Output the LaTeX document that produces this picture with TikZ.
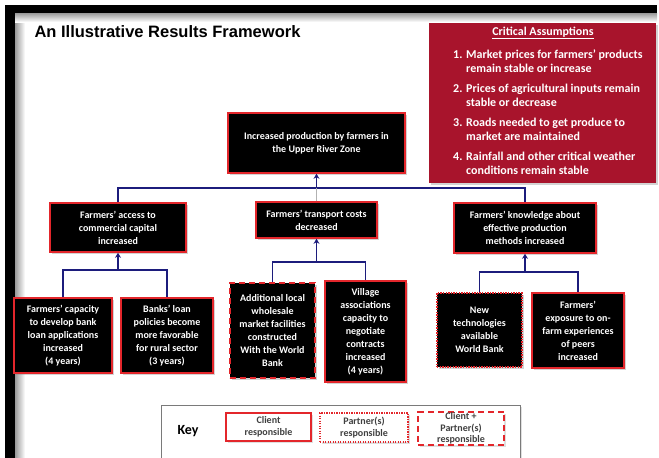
\documentclass[tikz,border=0pt]{standalone}
\usepackage{fontspec}
\setmainfont{Carlito}
\newfontfamily\titlefont{Liberation Sans}
\usetikzlibrary{arrows.meta, positioning, shadows}
\definecolor{rfred}{HTML}{E3262B}
\definecolor{rfwine}{HTML}{A8142C}
\definecolor{rfnavy}{HTML}{1C1C7C}
\definecolor{rfgray}{HTML}{7A7A7A}

\begin{document}
\begin{tikzpicture}[x=1pt, y=-1pt,
  resultnode/.style={rectangle, draw=rfred, fill=black, line width=1.6pt, text=white, font=\bfseries\fontsize{10}{13}\selectfont, align=center, inner sep=2pt, drop shadow={opacity=0.35, shadow xshift=2pt, shadow yshift=-2pt}},
  partnernode/.style={resultnode, line width=1.5pt, dash pattern=on 1.4pt off 1.2pt},
  jointnode/.style={resultnode, line width=2.4pt, dash pattern=on 6pt off 4pt},
  keynode/.style={rectangle, draw=rfred, fill=white, line width=1.6pt, text=black!75, font=\bfseries\fontsize{10}{11.5}\selectfont, align=center, inner sep=1pt, drop shadow={opacity=0.25, shadow xshift=2pt, shadow yshift=-2pt}},
  link/.style={rfnavy, line width=1.8pt},
  arr/.style={-{Stealth[length=5pt, width=6pt]}, rfnavy, line width=1.8pt},
  stem/.style={black!30, line width=1pt},
]
  \useasboundingbox (0,0) rectangle (659,458);

  % Page frame
  \fill[black] (5,5) rectangle (15,458);
  \fill[black] (5,5) rectangle (657,13);
  \shade[left color=black!40, right color=white] (15,13) rectangle (25,458);
  \shade[top color=black!40, bottom color=white] (15,13) rectangle (657,22);

  \node[font=\titlefont\bfseries\fontsize{16.5}{19}\selectfont, anchor=west] (title) at (31, 32) {An Illustrative Results Framework};

  % Critical assumptions
  \node[rectangle, fill=rfwine, minimum width=227pt, minimum height=160pt, drop shadow={opacity=0.35, shadow xshift=2pt, shadow yshift=-2pt}] (assume) at (542.5, 103) {};
  \node[font=\bfseries\fontsize{12}{14}\selectfont, text=white] (atitle) at (543, 33) {\underline{Critical Assumptions}};
  \node[font=\bfseries\fontsize{12}{14}\selectfont, text=white, align=left, anchor=north west, inner sep=0pt] (alist) at (453, 50) {%
    \makebox[13pt][l]{1.}Market prices for farmers’ products\\
    \hspace*{13pt}remain stable or increase\\[6pt]
    \makebox[13pt][l]{2.}Prices of agricultural inputs remain\\
    \hspace*{13pt}stable or decrease\\[6pt]
    \makebox[13pt][l]{3.}Roads needed to get produce to\\
    \hspace*{13pt}market are maintained\\[6pt]
    \makebox[13pt][l]{4.}Rainfall and other critical weather\\
    \hspace*{13pt}conditions remain stable};

  % Goal and intermediate results
  \node[resultnode, minimum width=177pt, minimum height=60pt] (goal) at (316.5, 143) {Increased production by farmers in\\the Upper River Zone};
  \node[resultnode, minimum width=136pt, minimum height=49pt] (access) at (118, 227.5) {Farmers’ access to\\commercial capital\\increased};
  \node[resultnode, minimum width=121pt, minimum height=36pt] (transport) at (316.5, 220) {Farmers’ transport costs\\decreased};
  \node[resultnode, minimum width=142pt, minimum height=50pt] (know) at (525, 228) {Farmers’ knowledge about\\effective production\\methods increased};

  % Lower-level results
  \node[resultnode, minimum width=98pt, minimum height=75pt] (cap) at (63, 335.5) {Farmers’ capacity\\to develop bank\\loan applications\\increased\\(4 years)};
  \node[resultnode, minimum width=92pt, minimum height=75pt] (loan) at (167, 335.5) {Banks’ loan\\policies become\\more favorable\\for rural sector\\(3 years)};
  \node[jointnode, minimum width=85pt, minimum height=95pt] (market) at (272.5, 330.5) {Additional local\\wholesale\\market facilities\\constructed\\With the World\\Bank};
  \node[resultnode, minimum width=81pt, minimum height=101pt] (village) at (365.5, 331.5) {Village\\associations\\capacity to\\negotiate\\contracts\\increased\\(4 years)};
  \node[partnernode, minimum width=85pt, minimum height=74pt] (tech) at (479.5, 330) {New\\technologies\\available\\World Bank};
  \node[resultnode, minimum width=92pt, minimum height=75pt] (peers) at (578, 330.5) {Farmers’\\exposure to on-\\farm experiences\\of peers\\increased};

  % Connectors
  \coordinate (jgoal) at (316.5, 188);
  \coordinate (jaccess) at (118, 270);
  \coordinate (jtransport) at (316.5, 262);
  \coordinate (jknow) at (525, 272);

  \draw[link] (access.north) |- (jgoal) -| (know.north);
  \draw[stem] (transport.north) -- (jgoal);
  \draw[arr] (jgoal) -- (goal.south);

  \draw[link] (cap.north) |- (jaccess) -| (loan.north);
  \draw[arr] (jaccess) -- (access.south);

  \draw[link] (market.north) |- (jtransport) -| (village.north);
  \draw[arr] (jtransport) -- (transport.south);

  \draw[link] (tech.north) |- (jknow) -| (peers.north);
  \draw[arr] (jknow) -- (know.south);

  % Key
  \node[rectangle, draw=rfgray, fill=white, line width=0.8pt, minimum width=359pt, minimum height=70pt, drop shadow={opacity=0.25, shadow xshift=2pt, shadow yshift=-2pt}] (keyframe) at (340.5, 440) {};
  \node[font=\bfseries\fontsize{14}{16}\selectfont] (keylabel) at (188, 431) {Key};
  \node[keynode, minimum width=85pt, minimum height=28pt] (kclient) at (268.5, 427) {Client\\responsible};
  \node[keynode, minimum width=88pt, minimum height=29pt, line width=1.4pt, dash pattern=on 1.3pt off 1.2pt] (kpartner) at (364, 427.5) {Partner(s)\\responsible};
  \node[keynode, minimum width=86pt, minimum height=33pt, line width=2pt, dash pattern=on 6pt off 4pt] (kjoint) at (461, 428.5) {Client +\\Partner(s)\\responsible};
\end{tikzpicture}
\end{document}
